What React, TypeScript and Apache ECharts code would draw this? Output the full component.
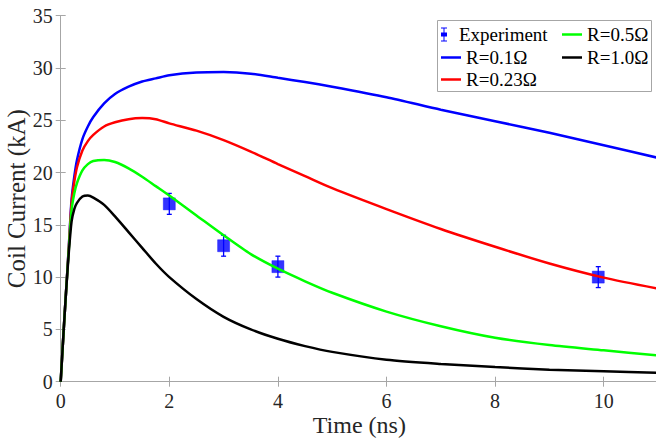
import React, { useEffect, useRef } from "react";
import * as echarts from "echarts";

const timeNs = [0, 0.05, 0.1, 0.15, 0.2, 0.25, 0.3, 0.4, 0.5, 0.6, 0.8, 1.0, 1.25, 1.5, 1.75, 2.0, 2.5, 3.0, 3.5, 4.0, 4.5, 5, 6, 7, 8, 9, 10, 11];
const currentR01 = [0, 4.5, 8.7, 13.0, 17.4, 19.6, 21.2, 23.2, 24.4, 25.3, 26.6, 27.5, 28.2, 28.7, 29.0, 29.3, 29.55, 29.6, 29.45, 29.05, 28.65, 28.2, 27.2, 26.0, 24.9, 23.8, 22.6, 21.4];
const currentR023 = [0, 4.5, 8.7, 12.9, 17.1, 19.1, 20.5, 22.1, 23.0, 23.6, 24.4, 24.8, 25.1, 25.2, 25.1, 24.7, 24.0, 23.1, 22.0, 20.8, 19.65, 18.5, 16.5, 14.6, 12.9, 11.3, 9.95, 8.9];
const currentR05 = [0, 4.5, 8.7, 12.7, 16.4, 18.0, 19.0, 20.2, 20.8, 21.1, 21.2, 21.0, 20.4, 19.6, 18.7, 17.8, 15.9, 14.0, 12.2, 10.8, 9.6, 8.5, 6.7, 5.3, 4.2, 3.5, 3.0, 2.5];
const currentR10 = [0, 4.5, 8.7, 12.4, 15.3, 16.5, 17.1, 17.7, 17.8, 17.6, 16.9, 15.8, 14.3, 12.8, 11.3, 10.0, 7.9, 6.2, 5.0, 4.1, 3.4, 2.85, 2.1, 1.7, 1.4, 1.15, 1.0, 0.86];

const expTime = [2, 3, 4, 9.9];
const expCurrent = [17, 13, 11, 10];
const expError = [1, 1, 1, 1];

const seriesNames = ["R=0.1Ω", "R=0.23Ω", "R=0.5Ω", "R=1.0Ω"];
const seriesColors = ["#0000ff", "#ff0000", "#00ff00", "#000000"];
const seriesValues = [currentR01, currentR023, currentR05, currentR10];

const FONT = "'Liberation Serif', 'Times New Roman', serif";
const AXIS_COLOR = "#a6a6a6";
const TEXT_COLOR = "#262626";

export default function App() {
  const ref = useRef<HTMLDivElement>(null);

  useEffect(() => {
    if (!ref.current) return;
    const chart = echarts.init(ref.current, null, { renderer: "svg" });

    const lineSeries = seriesNames.map((name, i) => ({
      name,
      type: "line",
      data: timeNs.map((t, j) => [t, seriesValues[i][j]]),
      symbol: "none",
      smooth: 0.25,
      lineStyle: { color: seriesColors[i], width: 2.5 },
      itemStyle: { color: seriesColors[i] },
      z: 5,
    }));

    const errData = expTime.map((t, i) => [t, expCurrent[i], expCurrent[i] - expError[i], expCurrent[i] + expError[i]]);

    const legendText = { fontFamily: FONT, fontSize: 19, color: "#000" };
    const lineIcon = "path://M0,0H20V2.5H0Z";
    const errIcon = "path://M2,0H8V1H5.5V5H8V9H5.5V13H8V14H2V13H4.5V9H2V5H4.5V1H2Z";
    const mkLegend = (name: string, left: number, top: number, icon: string) => ({
      data: [{ name, icon }],
      left,
      top,
      padding: 0,
      itemWidth: 20,
      itemHeight: 14,
      selectedMode: false,
      z: 6,
      textStyle: legendText,
    });

    const option = {
      animation: false,
      backgroundColor: "#ffffff",
      grid: { left: 60.7, top: 15.6, width: 597.3, height: 366.1, containLabel: false, outerBoundsMode: "none" },
      xAxis: [
        {
          type: "value",
          min: 0,
          max: 11,
          interval: 2,
          position: "bottom",
          name: "Time (ns)",
          nameLocation: "middle",
          nameGap: 31,
          nameMoveOverlap: false,
          nameTextStyle: { fontFamily: FONT, fontSize: 24, color: TEXT_COLOR },
          axisLine: { show: true, lineStyle: { color: AXIS_COLOR, width: 1 } },
          axisTick: { show: true, inside: true, length: 5, lineStyle: { color: AXIS_COLOR } },
          axisLabel: { fontFamily: FONT, fontSize: 20, color: TEXT_COLOR, margin: 9, showMaxLabel: false },
          splitLine: { show: false },
        },
        {
          type: "value",
          min: 0,
          max: 11,
          interval: 2,
          position: "top",
          axisLine: { show: true, lineStyle: { color: AXIS_COLOR, width: 1 } },
          axisTick: { show: true, inside: true, length: 5, lineStyle: { color: AXIS_COLOR } },
          axisLabel: { show: false },
          splitLine: { show: false },
        },
      ],
      yAxis: [
        {
          type: "value",
          min: 0,
          max: 35,
          interval: 5,
          position: "left",
          name: "Coil Current (kA)",
          nameLocation: "middle",
          nameGap: 32,
          nameMoveOverlap: false,
          nameTextStyle: { fontFamily: FONT, fontSize: 25, color: TEXT_COLOR },
          axisLine: { show: true, lineStyle: { color: AXIS_COLOR, width: 1 } },
          axisTick: { show: true, inside: true, length: 5, lineStyle: { color: AXIS_COLOR } },
          axisLabel: { fontFamily: FONT, fontSize: 20, color: TEXT_COLOR, margin: 8 },
          splitLine: { show: false },
        },
        {
          type: "value",
          min: 0,
          max: 35,
          interval: 5,
          position: "right",
          axisLine: { show: true, lineStyle: { color: AXIS_COLOR, width: 1 } },
          axisTick: { show: true, inside: true, length: 5, lineStyle: { color: AXIS_COLOR } },
          axisLabel: { show: false },
          splitLine: { show: false },
        },
      ],
      legend: [
        mkLegend("Experiment", 441, 25, errIcon),
        mkLegend("R=0.5Ω", 562, 25, lineIcon),
        mkLegend("R=0.1Ω", 441, 48, lineIcon),
        mkLegend("R=1.0Ω", 562, 48, lineIcon),
        mkLegend("R=0.23Ω", 441, 70, lineIcon),
      ],
      graphic: [
        {
          type: "rect",
          z: 1,
          shape: { x: 437.5, y: 20.5, width: 214, height: 71 },
          style: { fill: "#ffffff", stroke: "#a6a6a6", lineWidth: 1 },
        },
      ],
      series: [
        {
          name: "Experiment",
          type: "custom",
          xAxisIndex: 0,
          yAxisIndex: 0,
          data: errData,
          z: 3,
          renderItem: (params: any, api: any) => {
            const x = api.value(0);
            const lo = api.coord([x, api.value(2)]);
            const hi = api.coord([x, api.value(3)]);
            const cap = 2.5;
            const style = { stroke: "#0000ff", lineWidth: 1.3 };
            return {
              type: "group",
              children: [
                { type: "line", shape: { x1: lo[0], y1: lo[1], x2: hi[0], y2: hi[1] }, style },
                { type: "line", shape: { x1: lo[0] - cap, y1: lo[1], x2: lo[0] + cap, y2: lo[1] }, style },
                { type: "line", shape: { x1: hi[0] - cap, y1: hi[1], x2: hi[0] + cap, y2: hi[1] }, style },
              ],
            };
          },
          itemStyle: { color: "#0000ff" },
        },
        {
          name: "Experiment",
          type: "scatter",
          data: expTime.map((t, i) => [t, expCurrent[i]]),
          symbol: "rect",
          symbolSize: 12,
          itemStyle: { color: "#0000ff", borderColor: "#0000ff", borderWidth: 0.5 },
          z: 4,
        },
        ...lineSeries,
      ],
    };

    chart.setOption(option as any);
    return () => chart.dispose();
  }, []);

  return (
    <div
      ref={ref}
      style={{ position: "absolute", left: 0, top: 0, width: 656, height: 442, background: "#fff" }}
    />
  );
}
